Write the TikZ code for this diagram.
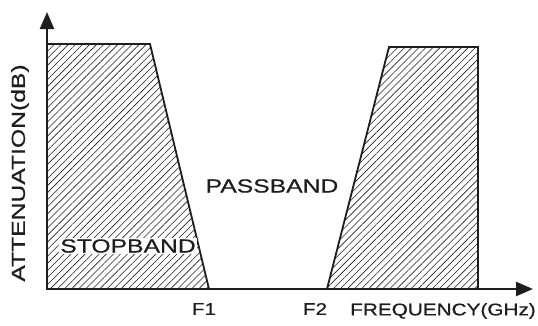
\documentclass[tikz,border=0pt]{standalone}
\usepackage{fontspec}
\setmainfont{Liberation Sans}
\newfontfamily\widefont[FakeStretch=1.3,FakeBold=0.6]{Liberation Sans}
\newfontfamily\axisfont[FakeStretch=1.22,FakeBold=0.6]{Liberation Sans}
\usetikzlibrary{arrows.meta,patterns.meta}
\definecolor{inkish}{RGB}{30, 30, 30}
\tikzset{
  axisline/.style = {line width=2.4pt, inkish,
    -{Triangle[length=17pt,width=14pt]}},
  bandshape/.style = {line width=1.8pt, inkish, line join=miter,
    pattern={Lines[angle=45,distance=5pt,line width=0.6pt]},
    pattern color=inkish},% stopband area
  biglabel/.style = {inkish, inner sep=1pt,
    font=\widefont\fontsize{19}{20}\selectfont},
  ticklabel/.style = {inkish, inner sep=1pt,
    font=\axisfont\fontsize{17}{18}\selectfont},
}
\begin{document}
\begin{tikzpicture}[x=1pt,y=1pt]
\useasboundingbox (0,0) rectangle (538,325);
% corners of the two stopbands
\coordinate (O) at (47,36);
\coordinate (ytop) at (47,313);
\coordinate (xend) at (533,36);
\coordinate (l1) at (47,281);
\coordinate (l2) at (150,281);
\coordinate (f1) at (209,36);
\coordinate (f2) at (327,36);
\coordinate (r1) at (389,278);
\coordinate (r2) at (478,278);
\coordinate (r3) at (478,36);

\draw[bandshape] (O) -- (l1) -- (l2) -- (f1) -- cycle;
\draw[bandshape] (f2) -- (r1) -- (r2) -- (r3) -- cycle;

\node[biglabel, fill=white] (stop) at (128,79) {STOPBAND};
\node[biglabel] (pass) at (272,139) {PASSBAND};
\node[biglabel, rotate=90] (atten) at (20,152) {ATTENUATION(dB)};

\draw[axisline] (O) -- (ytop);
\draw[axisline] (O) -- (xend);

\node[ticklabel] (F1) at (204,16) {F1};
\node[ticklabel] (F2) at (315,16) {F2};
\node[ticklabel] (freq) at (443,14) {FREQUENCY(GHz)};
\end{tikzpicture}
\end{document}
